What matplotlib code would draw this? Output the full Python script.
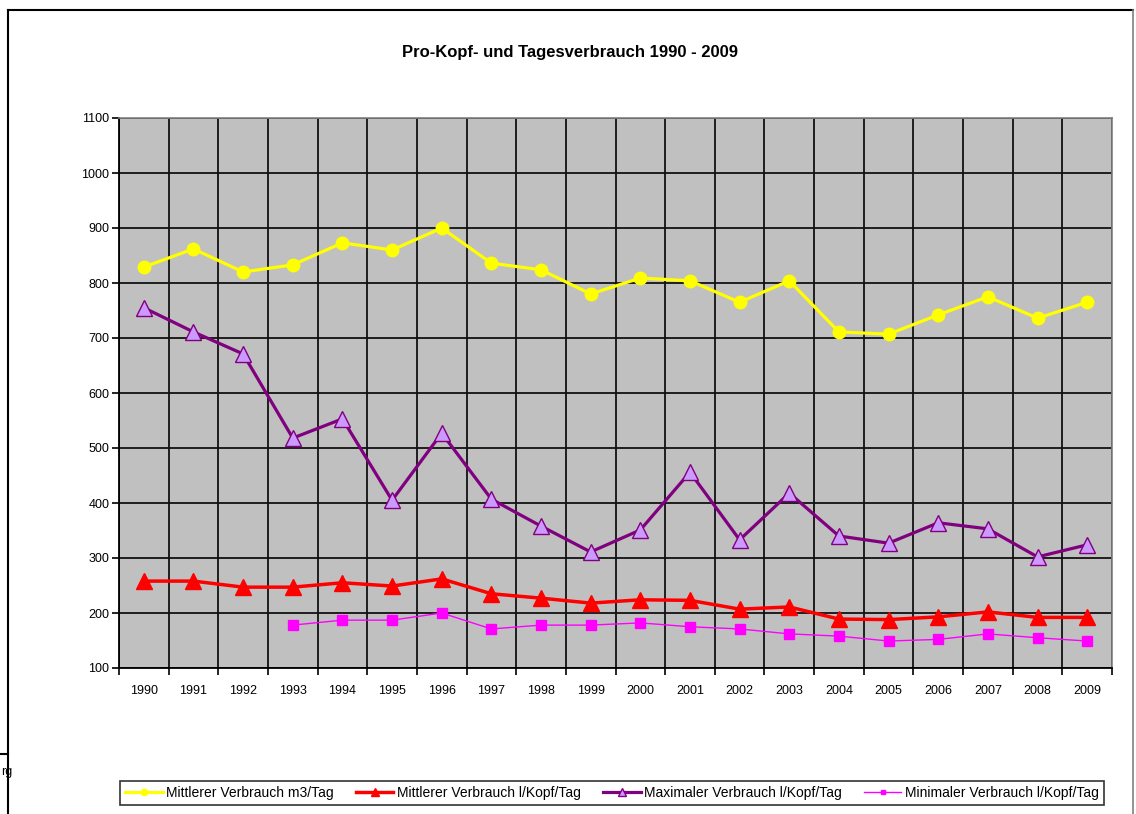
import matplotlib
matplotlib.use("Agg")
import matplotlib.pyplot as plt
import numpy as np
from matplotlib.lines import Line2D

plt.rcParams['font.family'] = ['Liberation Sans', 'DejaVu Sans']

years = [str(y) for y in range(1990, 2010)]
mittel_m3 = [829, 862, 820, 833, 873, 860, 900, 836, 824, 780,
             809, 804, 765, 804, 711, 707, 742, 775, 736, 765]
mittel_l = [258, 258, 247, 247, 255, 249, 262, 235, 227, 218,
            224, 223, 207, 211, 189, 188, 193, 202, 192, 192]
maximal_l = [755, 711, 671, 518, 553, 405, 527, 407, 358, 311,
             351, 456, 333, 418, 340, 327, 364, 353, 302, 324]
minimal_l = [None, None, None, 178, 187, 187, 200, 171, 178, 178,
             182, 175, 171, 162, 158, 149, 152, 162, 155, 149]

labels = ["Mittlerer Verbrauch m3/Tag", "Mittlerer Verbrauch l/Kopf/Tag",
          "Maximaler Verbrauch l/Kopf/Tag", "Minimaler Verbrauch l/Kopf/Tag"]

W, H = 1136, 814
fig = plt.figure(figsize=(W/100, H/100), dpi=100)
ax = fig.add_axes([119/W, 1-668/H, 993/W, 550/H])
ax.set_facecolor('#C0C0C0')

x = np.arange(len(years))
mn = np.array([np.nan if v is None else v for v in minimal_l], dtype=float)

ax.plot(x, mittel_m3, color='#FFFF00', lw=2.3, marker='o', ms=9,
        mec='#FFFF00', mfc='#FFFF00', label=labels[0], zorder=5)
ax.plot(x, mittel_l, color='#FF0000', lw=2.5, marker='^', ms=12,
        mec='#FF0000', mfc='#FF0000', label=labels[1], zorder=5)
ax.plot(x, maximal_l, color='#800080', lw=2.3, marker='^', ms=12,
        mec='#800080', mfc='#CC99FF', mew=1, label=labels[2], zorder=5)
ax.plot(x, mn, color='#FF00FF', lw=1.0, marker='s', ms=7,
        mec='#FF00FF', mfc='#FF00FF', label=labels[3], zorder=5)

ax.set_xlim(-0.5, len(years)-0.5)
ax.set_ylim(100, 1100)
ax.set_yticks(np.arange(100, 1101, 100))
ax.set_xticks(x)
ax.set_xticklabels(years)
ax.set_xticks(np.arange(-0.5, len(years), 1), minor=True)
ax.tick_params(axis='x', which='major', length=0, labelsize=9, pad=12)
ax.tick_params(axis='x', which='minor', length=5, width=1.2, direction='out')
ax.tick_params(axis='y', which='major', length=5, width=1.2, direction='out',
               labelsize=9, pad=2)
ax.grid(True, axis='y', which='major', color='#111111', lw=1.3, zorder=1)
ax.grid(True, axis='x', which='minor', color='#111111', lw=1.3, zorder=1)
ax.set_axisbelow(True)
for s in ['top', 'right']:
    ax.spines[s].set_color('#808080')
    ax.spines[s].set_linewidth(1.2)
ax.spines['left'].set_color('black')
ax.spines['left'].set_linewidth(1.3)
ax.spines['bottom'].set_color('black')
ax.spines['bottom'].set_linewidth(1.3)

fig.text(570/W, 1-52/H, "Pro-Kopf- und Tagesverbrauch 1990 - 2009",
         ha='center', va='center', fontsize=12, fontweight='bold')

leg = fig.legend(loc='center', bbox_to_anchor=(612/W, 1-793/H), ncol=4,
                 fontsize=10, frameon=True, fancybox=False, edgecolor='black',
                 handlelength=2.7, handletextpad=0.25, columnspacing=1.6,
                 borderpad=0.35, markerscale=0.5)
leg.get_frame().set_linewidth(1.2)

# outer chart frame
fig.add_artist(Line2D([8/W, 1133/W], [1-10/H, 1-10/H], transform=fig.transFigure,
                      color='black', lw=1.5))
fig.add_artist(Line2D([8/W, 8/W], [1-10/H, 0], transform=fig.transFigure,
                      color='black', lw=1.5))
fig.add_artist(Line2D([1133/W, 1133/W], [1-10/H, 0], transform=fig.transFigure,
                      color='#808080', lw=1.2))
fig.add_artist(Line2D([0, 8/W], [1-754/H, 1-754/H], transform=fig.transFigure,
                      color='black', lw=1.5))
fig.text(1/W, 1-772/H, "rg", ha='left', va='center', fontsize=9)

fig.savefig("out.png", dpi=100)
